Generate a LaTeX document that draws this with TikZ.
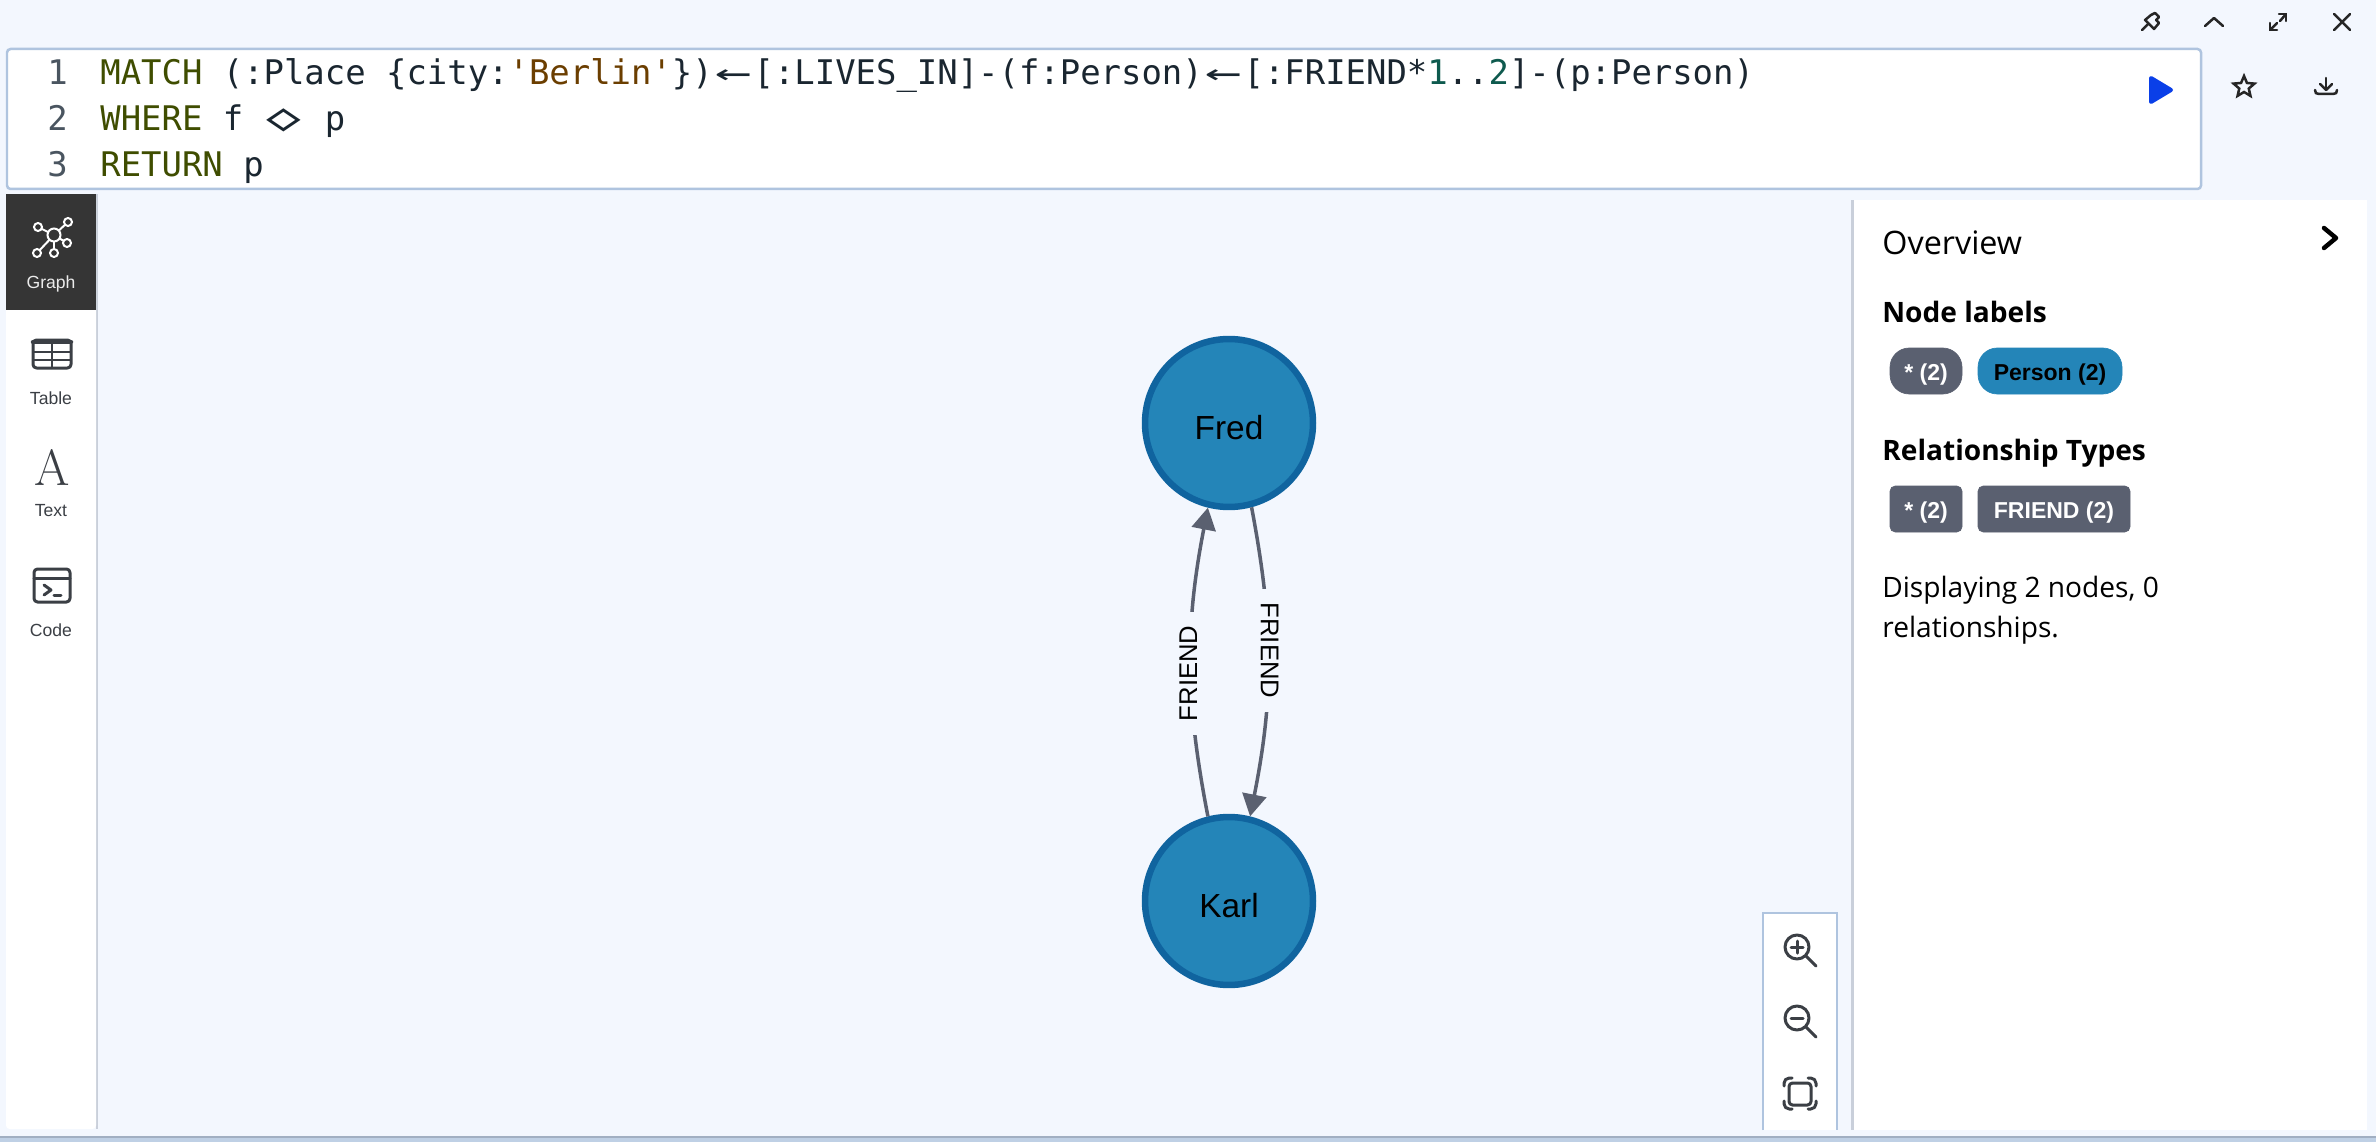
\documentclass[tikz,border=0pt]{standalone}
\usepackage{fontspec}
\usepackage{graphicx}
\setmainfont{Liberation Sans}
\newfontfamily\codefont{DejaVu Sans Mono}
\newfontfamily\panelfont{Open Sans}
\usetikzlibrary{arrows.meta,shapes.geometric}

\definecolor{bgblue}{HTML}{F3F7FE}
\definecolor{edgeblue}{HTML}{AFC4DF}
\definecolor{shadowgray}{HTML}{C9CFDA}
\definecolor{darkside}{HTML}{353535}
\definecolor{icongray}{HTML}{3B3F45}
\definecolor{kwolive}{HTML}{3F4D00}
\definecolor{strbrown}{HTML}{6B3E00}
\definecolor{numteal}{HTML}{0E5A4E}
\definecolor{lineno}{HTML}{4A5560}
\definecolor{codeink}{HTML}{1A2630}
\definecolor{personfill}{HTML}{2485B8}
\definecolor{personline}{HTML}{10649F}
\definecolor{relgray}{HTML}{5A6070}
\definecolor{playblue}{HTML}{0A3FE8}

\newcommand{\kw}[1]{\textcolor{kwolive}{#1}}
\newcommand{\ligarrow}{\makebox[23.25pt]{\scalebox{1.8}[1]{←}}}
\newcommand{\ligdiamond}{\makebox[23.25pt]{\scalebox{1.7}[1.15]{◇}}}
\newcommand{\lowered}[1]{\raisebox{-9.6pt}[0pt][0pt]{#1}}

\tikzset{
    codeline/.style={anchor=base west, inner sep=0pt, text=codeink, font=\codefont\fontsize{19.3}{23}\selectfont},
    lineno/.style={codeline, text=lineno},
    sidelabel/.style={anchor=base, inner sep=0pt, text=icongray, font=\fontsize{10}{12}\selectfont},
    person/.style={circle, draw=personline, fill=personfill, line width=.13cm, minimum size=3.36cm, inner sep=0pt, font=\fontsize{19}{23}\selectfont},
    rel/.style={draw=relgray, line width=.07cm, -{Triangle[length=.44cm,width=.48cm]}},
    rellabel/.style={fill=bgblue, inner xsep=.28cm, inner ysep=.1cm, font=\fontsize{14.6}{17}\selectfont},
    paneltext/.style={anchor=base west, inner sep=0pt, font=\panelfont\fontsize{16}{19}\selectfont},
    panelhead/.style={anchor=base west, inner sep=0pt, font=\panelfont\bfseries\fontsize{16}{19}\selectfont},
    pilltext/.style={anchor=base, inner sep=0pt, font=\bfseries\fontsize{13.1}{16}\selectfont},
    icon/.style={draw=black!85, line width=.05cm, line cap=round, line join=round},
    sideicon/.style={draw=icongray, line width=.06cm, line cap=round, line join=round}
}

\begin{document}
\begin{tikzpicture}[x=0.02cm,y=-0.02cm]
    \useasboundingbox (0,0) rectangle (2376,1142);
    \fill[bgblue] (0,0) rectangle (2376,1142);

    % bottom strip
    \fill[edgeblue!80!white] (0,1136) rectangle (2376,1142);
    \fill[edgeblue!70!gray] (0,1136) rectangle (2376,1138);

    % editor
    \filldraw[fill=white, draw=edgeblue, line width=.05cm, rounded corners=2pt] (7,49) rectangle (2201,189);
    \node[lineno] (no1) at (47,85) {1};
    \node[lineno] (no2) at (47,131) {2};
    \node[lineno] (no3) at (47,177) {3};
    \node[codeline] (match) at (100,85) {\kw{MATCH} (:Place \{city:\textcolor{strbrown}{'Berlin'}\})\ligarrow{}[:LIVES\_IN]-(f:Person)\ligarrow{}[:FRIEND*\textcolor{numteal}{1}..\textcolor{numteal}{2}]-(p:Person)};
    \node[codeline] (where) at (100,131) {\kw{WHERE} f \ligdiamond{} p};
    \node[codeline] (return) at (100,177) {\kw{RETURN} p};

    % play, star, download
    \filldraw[playblue, line join=round, line width=.08cm] (2151,78) -- (2171,90) -- (2151,102) -- cycle;
    \node[star, star points=5, star point ratio=2.2, draw=black!85, line width=.05cm, minimum size=.44cm, inner sep=0pt] (favstar) at (2244,87) {};
    \draw[icon] (2326,78) -- (2326,90);
    \draw[icon] (2320,84) -- (2326,90) -- (2332,84);
    \draw[icon] (2315,90) .. controls (2315,93) and (2316,94) .. (2319,94) -- (2333,94) .. controls (2336,94) and (2337,93) .. (2337,90);

    % window icons
    \draw[icon] (2142,30) -- (2148,24);
    \draw[icon] (2151,15) -- (2145,20) -- (2154,29) -- (2159,23) -- (2156,20) -- (2159,17) -- (2155,13) -- (2151,15);
    \draw[icon] (2205,26) -- (2214,18) -- (2223,26);
    \draw[icon] (2270,30) -- (2277,23);
    \draw[icon] (2270,23) -- (2270,30) -- (2277,30);
    \draw[icon] (2280,21) -- (2286,14);
    \draw[icon] (2279,14) -- (2286,14) -- (2286,21);
    \draw[icon] (2334,14) -- (2350,30);
    \draw[icon] (2350,14) -- (2334,30);

    % sidebar
    \fill[shadowgray] (96,194) rectangle (98,1129);
    \fill[white, rounded corners=2pt] (6,194) rectangle (96,1129);
    \fill[darkside] (6,194) rectangle (96,310);

    % graph icon
    \draw[white, line width=.04cm] (54,235) -- (38,227);
    \draw[white, line width=.04cm] (54,235) -- (68,222);
    \draw[white, line width=.04cm] (54,235) -- (67,243);
    \draw[white, line width=.04cm] (54,235) -- (54,253);
    \draw[white, line width=.04cm] (54,235) -- (37,253);
    \filldraw[fill=darkside, draw=white, line width=.04cm] (54,235) circle (6.5);
    \foreach \cx/\cy in {38/227, 68/222, 67/243, 54/253, 37/253}
        \filldraw[fill=darkside, draw=white, line width=.04cm] (\cx,\cy) circle (4);
    \node[sidelabel, text=white!92!black] (graphtab) at (51,288) {Graph};

    % table icon
    \draw[sideicon, rounded corners=2pt] (33,340) rectangle (71,368);
    \draw[sideicon, line width=.09cm] (33,342) -- (71,342);
    \draw[sideicon, line width=.04cm] (52,342) -- (52,368);
    \draw[sideicon, line width=.04cm] (33,352) -- (71,352);
    \draw[sideicon, line width=.04cm] (33,360) -- (71,360);
    \node[sidelabel] (tabletab) at (51,404) {Table};

    % text icon
    \node[anchor=base, inner sep=0pt, text=icongray, font=\usefont{TU}{lmr}{m}{n}\fontsize{29}{30}\selectfont] (aicon) at (52,485) {A};
    \node[sidelabel] (texttab) at (51,516) {Text};

    % code icon
    \draw[sideicon, rounded corners=2pt] (34,569) rectangle (70,602);
    \draw[sideicon] (34,578) -- (70,578);
    \draw[sideicon] (44,585) -- (51,590) -- (44,595);
    \draw[sideicon] (54,595) -- (61,595);
    \node[sidelabel] (codetab) at (51,636) {Code};

    % graph
    \node[person] (fred) at (1229,423) {\lowered{Fred}};
    \node[person] (karl) at (1229,901) {\lowered{Karl}};
    \draw[rel] (karl.104) to[bend left=11] node[rellabel, pos=.46, rotate=90, yshift=.05cm] (friendup) {FRIEND} (fred.256);
    \draw[rel] (fred.285) to[bend left=11] node[rellabel, pos=.46, rotate=-90, yshift=.03cm] (frienddown) {FRIEND} (karl.76);

    % zoom controls
    \fill[white] (1763,913) rectangle (1837,1130);
    \draw[edgeblue, line width=.05cm] (1763,1130) -- (1763,913) -- (1837,913) -- (1837,1130);
    \draw[sideicon] (1797,947) circle (12);
    \draw[sideicon] (1806,956) -- (1816,966);
    \draw[sideicon] (1791,947) -- (1803,947);
    \draw[sideicon] (1797,941) -- (1797,953);
    \draw[sideicon] (1797,1018) circle (12);
    \draw[sideicon] (1806,1027) -- (1816,1037);
    \draw[sideicon] (1791,1018) -- (1803,1018);
    \draw[sideicon, rounded corners=2pt] (1789,1083) rectangle (1811,1105);
    \draw[sideicon, rounded corners=3pt] (1784,1086) -- (1784,1078) -- (1792,1078);
    \draw[sideicon, rounded corners=3pt] (1808,1078) -- (1816,1078) -- (1816,1086);
    \draw[sideicon, rounded corners=3pt] (1816,1101) -- (1816,1109) -- (1808,1109);
    \draw[sideicon, rounded corners=3pt] (1792,1109) -- (1784,1109) -- (1784,1101);

    % overview panel
    \fill[shadowgray] (1851,200) rectangle (1854,1130);
    \fill[white] (1854,200) rectangle (2367,1130);
    \node[paneltext, font=\panelfont\fontsize{18.4}{22}\selectfont] (overview) at (1882,255) {Overview};
    \draw[black, line width=.09cm, line cap=round, line join=round] (2324,228) -- (2336,238) -- (2324,248);
    \node[panelhead] (nodelabels) at (1882,322) {Node labels};
    \filldraw[relgray, rounded corners=11pt] (1890,348) rectangle (1962,394);
    \node[pilltext, text=white] (allnodes) at (1926,380) {* (2)};
    \filldraw[personfill, rounded corners=11pt] (1978,348) rectangle (2122,394);
    \node[pilltext, text=black] (personpill) at (2050,380) {Person (2)};
    \node[panelhead] (reltypes) at (1882,460) {Relationship Types};
    \filldraw[relgray, rounded corners=3pt] (1890,486) rectangle (1962,532);
    \node[pilltext, text=white] (allrels) at (1926,518) {* (2)};
    \filldraw[relgray, rounded corners=3pt] (1978,486) rectangle (2130,532);
    \node[pilltext, text=white] (friendpill) at (2054,518) {FRIEND (2)};
    \node[paneltext] (display1) at (1882,597) {Displaying 2 nodes, 0};
    \node[paneltext] (display2) at (1882,637) {relationships.};
\end{tikzpicture}
\end{document}
